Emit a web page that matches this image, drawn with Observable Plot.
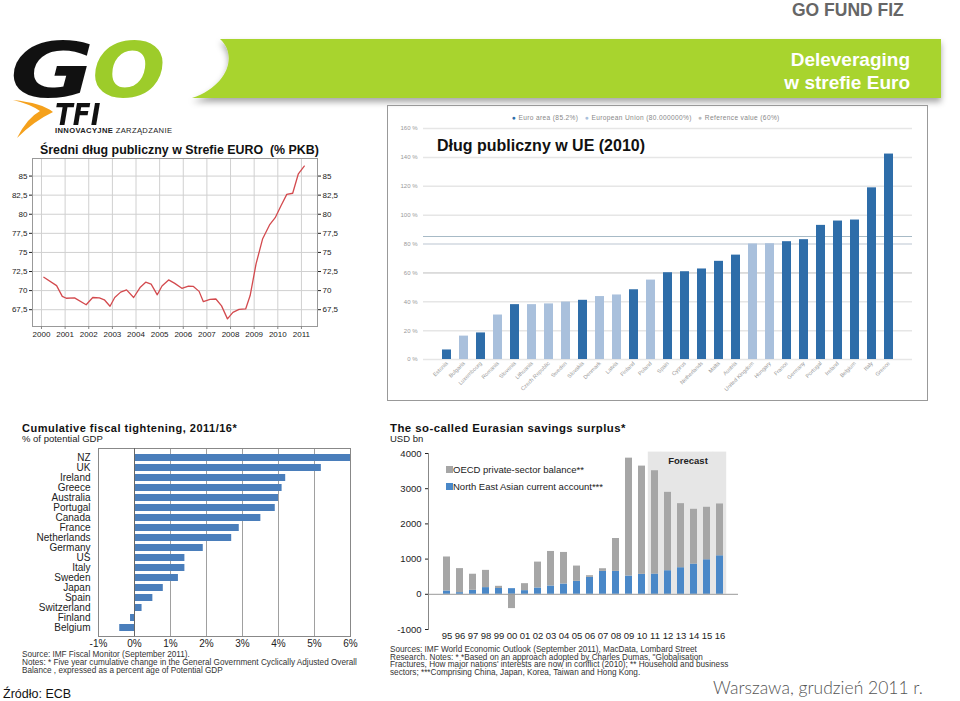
<!DOCTYPE html>
<html><head><meta charset="utf-8">
<script src="https://cdn.jsdelivr.net/npm/d3@7"></script>
<script src="https://cdn.jsdelivr.net/npm/@observablehq/plot@0.6"></script>
<style>
body{margin:0;width:960px;height:701px;position:relative;overflow:hidden;background:#fff;font-family:"Liberation Sans",Arial,sans-serif;}
.abs{position:absolute;white-space:nowrap;}
.note{font-size:8.2px;line-height:7.6px;color:#333;}
.logo{font-family:"DejaVu Sans",sans-serif;font-weight:bold;font-style:italic;}
.logo span{display:inline-block;transform-origin:0 0;}
</style></head><body>

<script>
// ---------- Chart 1: average euro-area public debt (% GDP) ----------
const debtYears = [2000.1,2000.64,2000.88,2001.05,2001.4,2001.89,2002.17,2002.45,2002.66,2002.9,2003.1,2003.35,2003.6,2003.9,2004.17,2004.41,2004.64,2004.9,2005.1,2005.38,2005.64,2005.94,2006.22,2006.43,2006.67,2006.85,2007.13,2007.38,2007.62,2007.87,2008.1,2008.36,2008.64,2008.83,2009.08,2009.36,2009.65,2009.89,2010.14,2010.38,2010.63,2010.87,2011.12];
const debtValues = [71.75,70.65,69.25,69.0,69.05,68.15,69.1,69.05,68.8,67.95,69.1,69.8,70.1,69.1,70.4,71.1,70.85,69.45,70.6,71.4,70.95,70.3,70.6,70.55,69.9,68.55,68.85,68.9,68.0,66.3,67.15,67.55,67.6,69.35,73.5,76.8,78.6,79.55,81.15,82.6,82.75,85.3,86.3];
const debtYearTicks = [2000,2001,2002,2003,2004,2005,2006,2007,2008,2009,2010,2011];
const debtValueTicks = [67.5,70,72.5,75,77.5,80,82.5,85];

// ---------- Chart 2: public debt in EU 2010 ----------
const ueCountries = ["Estonia","Bulgaria","Luxembourg","Romania","Slovenia","Lithuania","Czech Republic","Sweden","Slovakia","Denmark","Latvia","Finland","Poland","Spain","Cyprus","Netherlands","Malta","Austria","United Kingdom","Hungary","France","Germany","Portugal","Ireland","Belgium","Italy","Greece"];
const ueDebt = [6.6,16.2,18.4,30.8,38.0,38.0,38.5,39.8,41.0,43.6,44.7,48.3,55.0,60.1,60.8,62.7,68.0,72.3,80.0,80.2,81.6,83.0,92.9,95.9,96.6,118.9,142.3];
const ueGroup = ["euro","eu","euro","eu","euro","eu","eu","eu","euro","eu","eu","euro","eu","euro","euro","euro","euro","euro","eu","eu","euro","euro","euro","euro","euro","euro","euro"];
const ueTicks = [0,20,40,60,80,100,120,140,160];
const ueRefLines = [85.2, 80, 60];

// ---------- Chart 3: cumulative fiscal tightening ----------
const fiscalCountries = ["NZ","UK","Ireland","Greece","Australia","Portugal","Canada","France","Netherlands","Germany","US","Italy","Sweden","Japan","Spain","Switzerland","Finland","Belgium"];
const fiscalValues = [6.0,5.19,4.2,4.1,4.0,3.91,3.51,2.91,2.7,1.91,1.4,1.4,1.22,0.8,0.51,0.21,-0.11,-0.41];
const fiscalTicks = [-1,0,1,2,3,4,5,6];

// ---------- Chart 4: Eurasian savings surplus ----------
const surplusYears = ["95","96","97","98","99","00","01","02","03","04","05","06","07","08","09","10","11","12","13","14","15","16"];
const neAsiaCA = [95,47,113,190,165,160,104,180,236,292,368,481,651,651,519,566,575,670,755,858,981,1094];
const oecdPrivate = [965,683,457,490,62,-406,198,735,981,897,434,47,75,934,3349,3076,2935,2226,1820,1557,1491,1472];
const forecastYears = ["11","12","13","14","15","16"];
const surplusTicks = [-1000,0,1000,2000,3000,4000];
const surplusSeries = ["North East Asian current account***","OECD private-sector balance**"];
</script>

<!-- header -->
<div class="abs" style="left:792px;top:0px;font-size:17.5px;line-height:20px;font-weight:bold;color:#666;">GO FUND FIZ</div>
<svg class="abs" style="left:0;top:0" width="960" height="145">
  <defs><filter id="sh" x="-5%" y="-20%" width="110%" height="160%"><feDropShadow dx="0" dy="4" stdDeviation="3" flood-color="#000" flood-opacity="0.35"/></filter></defs>
  <path d="M 220 39 C 238 55 228 86 192 98 L 941 98 L 941 39 Z" fill="#a8d42f" filter="url(#sh)"/>
  <text x="910" y="66" text-anchor="end" font-family="Liberation Sans, Arial" font-weight="bold" font-size="19" fill="#fff">Deleveraging</text>
  <text x="910" y="89" text-anchor="end" font-family="Liberation Sans, Arial" font-weight="bold" font-size="19" fill="#fff">w strefie Euro</text>
  <path d="M 13 100 Q 42 103 53 112 Q 34 121 17 138 Q 27 118 40 111 Q 30 104 13 100 Z" fill="#f5a11c"/>
  <text x="55" y="133" font-family="Liberation Sans, Arial" font-size="7.6" textLength="117" fill="#222"><tspan font-weight="bold">INNOVACYJNE</tspan> ZARZĄDZANIE</text>
</svg>
<div class="abs logo" style="left:10px;top:43px;height:56px;line-height:56px;font-size:76px;"><span style="transform:scaleX(1.35);color:#111;">G</span></div>
<div class="abs logo" style="left:92px;top:43px;height:56px;line-height:56px;font-size:76px;"><span style="transform:scaleX(1.14);color:#9dcc2a;">O</span></div>
<div class="abs logo" style="left:55px;top:103.5px;height:22px;line-height:22px;font-size:30px;"><span style="transform:scaleX(0.87);color:#111;">TFI</span></div>

<!-- chart 1 -->
<div id="c1" class="abs" style="left:0;top:150px;"></div>
<div class="abs" style="left:40px;top:143px;font-size:12.4px;line-height:15px;font-weight:bold;color:#111;">Średni dług publiczny w Strefie EURO&nbsp; (% PKB)</div>

<!-- chart 2 -->
<div class="abs" style="left:387px;top:105px;width:539px;height:294px;border:1px solid #999;"></div>
<div id="c2" class="abs" style="left:388px;top:106px;"></div>
<div class="abs" style="left:512px;top:114px;font-size:6.6px;line-height:8px;letter-spacing:0.35px;color:#888;">
  <span style="color:#2e6da9">●</span> Euro area (85.2%) &nbsp; <span style="color:#a9c0dc">●</span> European Union (80.000000%) &nbsp; <span style="color:#bbb">●</span> Reference value (60%)</div>
<div class="abs" style="left:437px;top:136px;font-size:16px;line-height:19px;font-weight:bold;color:#111;">Dług publiczny w UE (2010)</div>

<!-- chart 3 -->
<div class="abs" style="left:22px;top:423px;font-size:11px;line-height:11px;font-weight:bold;color:#111;letter-spacing:0.5px;">Cumulative fiscal tightening, 2011/16*</div>
<div class="abs" style="left:22px;top:434px;font-size:9.5px;line-height:9px;color:#222;">% of potential GDP</div>
<div id="c3" class="abs" style="left:15px;top:445px;"></div>
<div class="abs note" style="left:22px;top:651px;">Source: IMF Fiscal Monitor (September 2011).</div>
<div class="abs note" style="left:22px;top:659px;">Notes: * Five year cumulative change in the General Government Cyclically Adjusted Overall<br>Balance , expressed as a percent age of Potential GDP</div>

<!-- chart 4 -->
<div class="abs" style="left:390px;top:423px;font-size:11.4px;line-height:11px;font-weight:bold;color:#111;letter-spacing:0.45px;">The so-called Eurasian savings surplus*</div>
<div class="abs" style="left:390px;top:434px;font-size:9.5px;line-height:9px;color:#222;">USD bn</div>
<div id="c4" class="abs" style="left:385px;top:445px;"></div>
<div class="abs" style="left:446px;top:461px;font-size:9.5px;color:#222;line-height:17px;">
  <span style="display:inline-block;width:7px;height:7px;background:#a6a6a6;"></span>OECD private-sector balance**<br>
  <span style="display:inline-block;width:7px;height:7px;background:#4a88c8;"></span>North East Asian current account***</div>
<div class="abs note" style="left:390px;top:646px;">Sources: IMF World Economic Outlook (September 2011), MacData, Lombard Street<br>Research. Notes: * *Based on an approach adopted by Charles Dumas, "Globalisation<br>Fractures, How major nations' interests are now in conflict (2010); ** Household and business<br>sectors; ***Comprising China, Japan, Korea, Taiwan and Hong Kong.</div>

<!-- footer -->
<div class="abs" style="left:3px;top:687px;font-size:12.5px;line-height:15px;color:#111;">Źródło: ECB</div>
<div class="abs" style="left:713px;top:677px;font-size:17.5px;line-height:21px;color:#555;font-family:Lato,'Liberation Sans',sans-serif;font-weight:300;">Warszawa, grudzień 2011 r.</div>

<script>
const fmtComma = d => String(d).replace(".", ",");

// Chart 1
const debtData = debtYears.map((x, i) => ({x, y: debtValues[i]}));
document.getElementById("c1").append(Plot.plot({
  width: 345, height: 195,
  marginLeft: 32, marginRight: 28, marginTop: 8, marginBottom: 19,
  style: {fontFamily: "Liberation Sans, Arial", fontSize: "8px", color: "#222", background: "transparent", maxWidth: "none"},
  x: {domain: [1999.62, 2011.68], label: null},
  y: {domain: [65.3, 87.3], label: null},
  marks: [
    Plot.gridX({ticks: debtYearTicks, stroke: "#d0d0d0", strokeOpacity: 1}),
    Plot.gridY({ticks: debtValueTicks, stroke: "#d0d0d0", strokeOpacity: 1}),
    Plot.frame({stroke: "#999"}),
    Plot.axisX({ticks: debtYearTicks, tickFormat: "d", tickSize: 3, tickPadding: 2, stroke: "#888"}),
    Plot.axisY({anchor: "left", ticks: debtValueTicks, tickFormat: fmtComma, tickSize: 3, tickPadding: 2}),
    Plot.axisY({anchor: "right", ticks: debtValueTicks, tickFormat: fmtComma, tickSize: 3, tickPadding: 2}),
    Plot.line(debtData, {x: "x", y: "y", stroke: "#d34a4e", strokeWidth: 1.3})
  ]
}));

// Chart 2
const ueData = ueCountries.map((c, i) => ({c, v: ueDebt[i], g: ueGroup[i]}));
document.getElementById("c2").append(Plot.plot({
  width: 539, height: 294,
  marginLeft: 35, marginRight: 15, marginTop: 22, marginBottom: 41,
  style: {fontFamily: "Liberation Sans, Arial", fontSize: "6px", color: "#999", background: "transparent", maxWidth: "none"},
  x: {domain: ueCountries, padding: 0.5, label: null},
  y: {domain: [0, 160], label: null},
  color: {domain: ["euro", "eu"], range: ["#2e6da9", "#a9c0dc"]},
  marks: [
    Plot.gridY({ticks: ueTicks, stroke: "#e6e6e6", strokeOpacity: 1, strokeWidth: 1.5}),
    Plot.ruleY(ueRefLines, {stroke: (d, i) => ["#a7bac6", "#cdd8e4", "#d6d6d6"][i], strokeWidth: 1.2}),
    Plot.axisY({ticks: ueTicks, tickSize: 0, tickPadding: 6, tickFormat: d => d + " %"}),
    Plot.axisX({tickRotate: -45, tickSize: 0, tickPadding: 3, fontSize: 5.5}),
    Plot.barY(ueData, {x: "c", y: "v", fill: "g"})
  ]
}));

// Chart 3
const fiscalData = fiscalCountries.map((c, i) => ({c, v: fiscalValues[i]}));
document.getElementById("c3").append(Plot.plot({
  width: 345, height: 205,
  marginLeft: 83, marginRight: 10, marginTop: 3, marginBottom: 14,
  style: {fontFamily: "Liberation Sans, Arial", fontSize: "10px", color: "#222", background: "transparent", maxWidth: "none"},
  x: {domain: [-1, 6], label: null},
  y: {domain: fiscalCountries, padding: 0.35, label: null},
  marks: [
    Plot.gridX({ticks: fiscalTicks, stroke: "#a0a0a0", strokeOpacity: 1}),
    Plot.frame({stroke: "#888"}),
    Plot.barX(fiscalData, {x: "v", y: "c", fill: "#4a7ebb"}),
    Plot.ruleX([0], {stroke: "#666"}),
    Plot.axisX({ticks: fiscalTicks, tickFormat: d => d + "%", tickSize: 0, tickPadding: 3}),
    Plot.axisY({tickSize: 0, tickPadding: 8})
  ]
}));

// Chart 4
const surplusData = [
  ...surplusYears.map((y, i) => ({year: y, s: surplusSeries[0], v: neAsiaCA[i]})),
  ...surplusYears.map((y, i) => ({year: y, s: surplusSeries[1], v: oecdPrivate[i]}))
];
document.getElementById("c4").append(Plot.plot({
  width: 370, height: 200,
  marginLeft: 43, marginRight: 17, marginTop: 8, marginBottom: 16,
  style: {fontFamily: "Liberation Sans, Arial", fontSize: "9.5px", color: "#222", background: "transparent", maxWidth: "none"},
  x: {domain: surplusYears, padding: 0.45, label: null},
  y: {domain: [-1000, 4000], label: null},
  color: {domain: surplusSeries, range: ["#4a88c8", "#a6a6a6"]},
  marks: [
    Plot.barY(forecastYears, {x: d => d, y1: 0, y2: 4040, fill: "#e6e6e6", insetLeft: -3.2, insetRight: -3.2}),
    Plot.barY(surplusData, {x: "year", y: "v", fill: "s"}),
    Plot.ruleY([0], {stroke: "#999"}),
    Plot.frame({anchor: "left", stroke: "#888"}),
    Plot.axisX({tickSize: 0, tickPadding: 3}),
    Plot.axisY({ticks: surplusTicks, tickFormat: d => String(d), tickSize: 3, tickPadding: 4}),
    Plot.text(["Forecast"], {x: () => forecastYears[2], y: 3790, dx: 7, fontWeight: "bold", fontSize: 9.5})
  ]
}));
</script>
</body></html>
